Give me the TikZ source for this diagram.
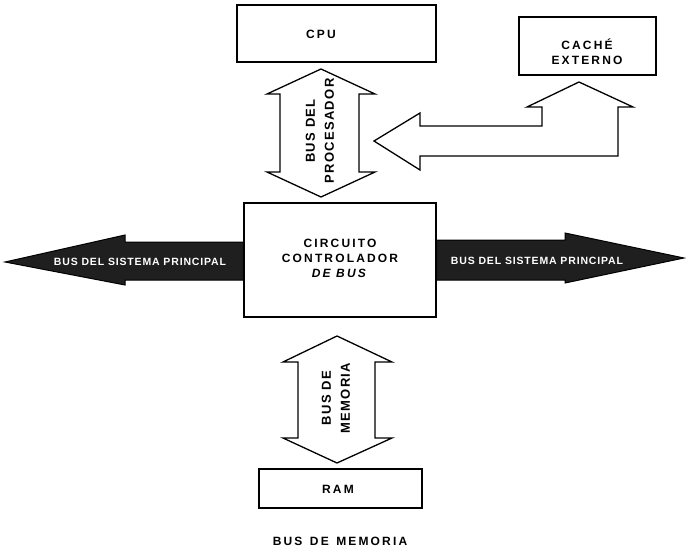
\documentclass[tikz,border=0pt]{standalone}
\usepackage{fontspec}
\newfontfamily\lab{Liberation Sans Bold}[LetterSpace=18, ItalicFont={Liberation Sans Bold Italic}]
\newfontfamily\labv{Liberation Sans Bold}[LetterSpace=10]
\newfontfamily\labw{Liberation Sans Bold}[LetterSpace=8]
\begin{document}
\begin{tikzpicture}[x=1pt,y=-1pt,
  box/.style={draw, line width=1.3pt, rectangle, inner sep=0pt},
  lbl/.style={font=\lab\fontsize{12}{15}\selectfont, align=center, inner sep=0pt},
  vlbl/.style={font=\labv\fontsize{13}{19}\selectfont, align=center, inner sep=0pt, rotate=90},
  dlbl/.style={font=\labw\fontsize{10.5}{11}\selectfont, text=white, inner sep=0pt},
  blockarrow/.style={draw, line width=1.3pt, fill=white, line join=miter},
  darkarrow/.style={draw=black, fill=black!88, line width=1pt, line join=miter}]
\useasboundingbox (0,0) rectangle (686,551);

% boxes
\node[box, minimum width=199pt, minimum height=57pt] (cpu) at (336.5,33.5) {};
\node[lbl] (cpulbl) at (321,34) {CPU};
\node[box, minimum width=137pt, minimum height=58pt] (cache) at (587.5,46) {};
\node[lbl] (cachelbl) at (587,52) {CACHÉ\\EXTERNO};
\node[box, minimum width=192pt, minimum height=114pt] (ctrl) at (340,260) {};
\node[lbl] (ctrllbl) at (340,258) {CIRCUITO\\CONTROLADOR\\\textit{DE BUS}};
\node[box, minimum width=163pt, minimum height=39pt] (ram) at (340.5,488.5) {};
\node[lbl] (ramlbl) at (338,489) {RAM};
\node[lbl] (caption) at (340,541) {BUS\ \,DE\ \,MEMORIA};

% processor bus
\draw[blockarrow] (321,69) -- (375,94) -- (359,94) -- (359,172) -- (375,172) -- (321,197)
  -- (267,172) -- (280,172) -- (280,94) -- (267,94) -- cycle;
\node[vlbl] (pbus) at (320,131) {BUS DEL\\PROCESADOR};

% cache bus
\draw[blockarrow] (374,141) -- (420,113) -- (420,126) -- (542,126) -- (542,107) -- (527,107)
  -- (579,82) -- (633,107) -- (618,107) -- (618,156) -- (420,156) -- (420,170) -- cycle;

% memory bus
\draw[blockarrow] (337,336) -- (392,362) -- (375,362) -- (375,438) -- (392,438) -- (337,463)
  -- (283,438) -- (298,438) -- (298,362) -- (283,362) -- cycle;
\node[vlbl] (mbus) at (336,398) {BUS DE\\MEMORIA};

% system bus arrows
\draw[darkarrow] (5,262) -- (125,235) -- (125,242) -- (ctrl.west |- 0,242) -- (ctrl.west |- 0,280)
  -- (125,280) -- (125,285) -- cycle;
\node[dlbl] (sysl) at (140,262) {BUS DEL SISTEMA PRINCIPAL};
\draw[darkarrow] (ctrl.east |- 0,240) -- (565,240) -- (565,233) -- (684,258) -- (565,283)
  -- (565,280) -- (ctrl.east |- 0,280) -- cycle;
\node[dlbl] (sysr) at (537,261) {BUS DEL SISTEMA PRINCIPAL};
\end{tikzpicture}
\end{document}
